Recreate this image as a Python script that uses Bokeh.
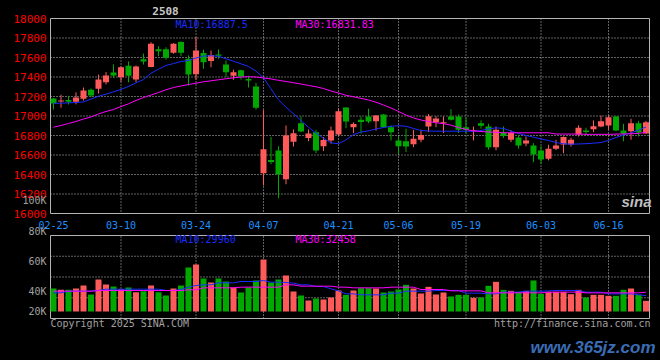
from bokeh.plotting import figure
from bokeh.models import ColumnDataSource, Range1d
from bokeh.core.properties import value
from bokeh.embed import file_html
from bokeh.resources import INLINE

# ---------------- data ----------------
CONTRACT = "2508"
DATE_TICK_INDEX = [0, 9, 19, 28, 38, 46, 55, 65, 74]
DATE_TICK_LABELS = ["02-25", "03-10", "03-24", "04-07", "04-21", "05-06", "05-19", "06-03", "06-16"]
PRICE_TICKS = [16000, 16200, 16400, 16600, 16800, 17000, 17200, 17400, 17600, 17800, 18000]

OPEN = [17180, 17150, 17163, 17146, 17176, 17270, 17280, 17346, 17446, 17397,
        17515, 17375, 17582, 17502, 17685, 17685, 17648, 17760, 17587, 17428,
        17645, 17565, 17632, 17528, 17412, 17470, 17380, 17303, 16413, 16550,
        16646, 16352, 16735, 16925, 16775, 16834, 16690, 16749, 16810, 17087,
        16885, 16962, 16995, 16947, 17015, 16885, 16749, 16740, 16710, 16756,
        16892, 16936, 16926, 16995, 16995, 16885, 16845, 16926, 16892, 16680,
        16827, 16756, 16780, 16718, 16697, 16646, 16561, 16663, 16708, 16708,
        16810, 16851, 16865, 16892, 16903, 16995, 16851, 16844, 16926, 16820]
HIGH = [17185, 17218, 17207, 17243, 17292, 17282, 17425, 17450, 17530, 17510,
        17560, 17518, 17640, 17757, 17716, 17705, 17747, 17767, 17621, 17810,
        17680, 17672, 17682, 17570, 17475, 17475, 17412, 17340, 17060, 16785,
        16690, 16903, 16862, 16995, 16862, 16858, 16785, 16892, 17074, 17090,
        16935, 16995, 17075, 17010, 17020, 16903, 16790, 16870, 16858, 16860,
        17020, 16998, 16995, 17070, 17015, 16985, 16892, 16955, 16920, 16892,
        16892, 16855, 16805, 16790, 16722, 16690, 16705, 16756, 16790, 16776,
        16905, 16880, 16955, 17005, 17005, 17000, 16920, 16971, 16950, 16950]
LOW = [17067, 17085, 17118, 17120, 17158, 17193, 17230, 17323, 17390, 17350,
       17345, 17347, 17528, 17500, 17613, 17577, 17638, 17613, 17313, 17372,
       17484, 17500, 17587, 17400, 17372, 17372, 17292, 17065, 16287, 16505,
       16157, 16300, 16687, 16835, 16741, 16618, 16640, 16715, 16800, 16875,
       16825, 16820, 16926, 16850, 16880, 16749, 16612, 16630, 16680, 16730,
       16835, 16885, 16825, 16954, 16825, 16820, 16750, 16870, 16655, 16648,
       16775, 16732, 16665, 16690, 16527, 16510, 16545, 16650, 16618, 16687,
       16790, 16805, 16835, 16885, 16860, 16845, 16741, 16756, 16790, 16815]
CLOSE = [17128, 17160, 17145, 17190, 17262, 17210, 17374, 17415, 17415, 17500,
         17412, 17508, 17560, 17740, 17665, 17597, 17740, 17648, 17426, 17672,
         17552, 17625, 17618, 17450, 17450, 17406, 17365, 17085, 16660, 16527,
         16400, 16800, 16822, 16840, 16821, 16646, 16755, 16851, 17049, 16944,
         16918, 16938, 16944, 17005, 16885, 16834, 16690, 16687, 16766, 16805,
         16998, 16975, 16936, 16961, 16860, 16860, 16855, 16900, 16680, 16860,
         16795, 16825, 16697, 16749, 16605, 16554, 16663, 16697, 16785, 16756,
         16880, 16836, 16895, 16947, 16988, 16851, 16817, 16926, 16830, 16936]
MA10 = [17131, 17131, 17135, 17138, 17145, 17173, 17203, 17224, 17248, 17272,
        17303, 17340, 17374, 17439, 17480, 17518, 17538, 17559, 17569, 17595,
        17615, 17618, 17613, 17587, 17562, 17535, 17508, 17460, 17392, 17279,
        17166, 17090, 17023, 16954, 16885, 16824, 16772, 16725, 16715, 16756,
        16810, 16835, 16848, 16867, 16882, 16895, 16900, 16895, 16872, 16851,
        16846, 16844, 16844, 16844, 16844, 16844, 16844, 16851, 16867, 16879,
        16872, 16846, 16821, 16800, 16783, 16764, 16749, 16728, 16715, 16711,
        16713, 16716, 16721, 16728, 16749, 16780, 16805, 16826, 16855, 16887.5]
MA30 = [16885, 16903, 16923, 16944, 16969, 16990, 17021, 17046, 17067, 17097,
        17125, 17159, 17190, 17215, 17241, 17269, 17292, 17308, 17323, 17336,
        17351, 17361, 17372, 17382, 17392, 17400, 17403, 17400, 17390, 17380,
        17366, 17354, 17341, 17328, 17313, 17300, 17282, 17256, 17236, 17212,
        17197, 17181, 17164, 17141, 17113, 17082, 17046, 17010, 16980, 16959,
        16944, 16931, 16921, 16906, 16882, 16862, 16846, 16841, 16836, 16833,
        16828, 16828, 16828, 16828, 16828, 16828, 16828, 16815, 16815, 16815,
        16815, 16812, 16812, 16812, 16812, 16814, 16816, 16818, 16822, 16831.83]
VOLUME = [35250, 34250, 34250, 35250, 37500, 30750, 42000, 38250, 36750, 34750,
          36000, 32500, 33250, 37500, 32500, 30000, 35250, 37500, 51000, 53250,
          42750, 39750, 42750, 40500, 36000, 32250, 36000, 41250, 57000, 39750,
          42000, 45000, 33000, 30000, 26250, 27750, 27000, 28500, 33750, 30500,
          33750, 35500, 35500, 35250, 32250, 33000, 34500, 38000, 35250, 31500,
          36500, 30750, 32250, 29250, 30500, 30500, 28250, 28500, 37250, 40250,
          34250, 33500, 32750, 33500, 41250, 31250, 32750, 32750, 32750, 31000,
          34250, 28500, 30500, 30500, 29750, 29750, 34250, 35250, 30500, 26000]
VOL_MA10 = [32000, 32000, 33250, 33250, 33250, 33250, 33750, 34750, 34750, 34750,
            34750, 34750, 34750, 34750, 34750, 33750, 33750, 34500, 36250, 37500,
            38000, 38000, 39500, 39500, 39500, 40500, 40500, 40500, 41250, 40000,
            40000, 39750, 39250, 38000, 38000, 36750, 36750, 35000, 33500, 31250,
            31250, 30500, 30500, 30500, 30500, 31750, 31750, 33250, 33250, 33250,
            33250, 33750, 33750, 33750, 33750, 31750, 31750, 31750, 31250, 31250,
            32500, 32500, 32500, 33250, 33250, 33250, 33500, 33750, 33750, 33750,
            33750, 32500, 32500, 32500, 31250, 31250, 31250, 31250, 30500, 29960]
VOL_MA30 = [33250, 33250, 33250, 33250, 33250, 33250, 33750, 33750, 33750, 33750,
            33750, 33750, 33750, 33750, 33750, 33750, 33750, 33750, 34250, 34250,
            35750, 35750, 35750, 35750, 35750, 36250, 36250, 36250, 36250, 36250,
            36250, 38000, 38000, 37000, 37000, 37000, 37000, 37000, 36250, 36250,
            35750, 35750, 35750, 35750, 35750, 36250, 36250, 36250, 36250, 34500,
            34500, 34500, 34500, 33500, 33500, 33500, 33500, 33500, 32000, 32000,
            32000, 32000, 32000, 32000, 32000, 32000, 32500, 32500, 32500, 32500,
            32500, 32000, 32000, 32000, 32000, 32000, 32000, 32000, 32000, 32458]
MA10_TEXT = "MA10:16887.5"
MA30_TEXT = "MA30:16831.83"
VOL_MA10_TEXT = "MA10:29960"
VOL_MA30_TEXT = "MA30:32458"
VOL_LABELS = ["100K", "80K", "60K", "40K", "20K"]
COPYRIGHT = "Copyright 2025 SINA.COM"
SOURCE_URL = "http://finance.sina.com.cn"
WATERMARK = "www.365jz.com"
LOGO = "sina"

# ---------------- layout / style ----------------
W, H = 660, 360
BAR0_PX, BAR_STEP = 53, 7.5          # pixel centre of first bar, pixels per bar
PANEL_L, PANEL_R = 50, 649           # panel frame, x pixels
P_TOP, P_BOT = 18, 213               # price panel frame, y pixels
V_TOP, V_BOT = 235, 318              # volume panel frame, y pixels
VOL_BASE, VOL_BASE_PX, VOL_PER_PX = 18000, 311, 750
PRICE_PER_PX = (PRICE_TICKS[-1] - PRICE_TICKS[0]) / (P_BOT - P_TOP)


def xi(px):
    return (px - BAR0_PX) / BAR_STEP


def yp(px):
    return PRICE_TICKS[-1] - (px - P_TOP) * PRICE_PER_PX


def yv(px):
    return VOL_BASE + (VOL_BASE_PX - px) * VOL_PER_PX


MONO = value("DejaVu Sans Mono")
UP, DOWN = "#ff5a5a", "#00a800"
GRID, FRAME = "#c4c4c4", "#b4b4b4"
BLUE, MAG, GRAY = "#1a2cff", "#ff00ff", "#a0a0a0"

n = len(CLOSE)
idx = list(range(n))
colors = [UP if c >= o else DOWN for o, c in zip(OPEN, CLOSE)]
src = ColumnDataSource(dict(
    x=idx, high=HIGH, low=LOW, vol=VOLUME, color=colors,
    top=[max(o, c) for o, c in zip(OPEN, CLOSE)],
    bottom=[min(o, c) for o, c in zip(OPEN, CLOSE)],
))

p = figure(width=W, height=H, x_range=Range1d(xi(0), xi(W)), y_range=Range1d(yp(H), yp(0)),
           output_backend="svg", toolbar_location=None,
           x_axis_location=None, y_axis_location=None, min_border=0,
           background_fill_color="black", border_fill_color="black")
p.extra_y_ranges = {"vol": Range1d(yv(H), yv(0))}
p.grid.visible = False
p.outline_line_color = None

xl, xr = xi(PANEL_L), xi(PANEL_R)
grid_idx = DATE_TICK_INDEX[1:]

# grids
inner = PRICE_TICKS[1:-1]
p.segment(x0=[xl] * len(inner), x1=[xr] * len(inner), y0=inner, y1=inner,
          line_color=GRID, line_dash="1 2", line_width=1)
p.segment(x0=grid_idx, x1=grid_idx, y0=[yp(P_TOP)] * len(grid_idx), y1=[yp(P_BOT)] * len(grid_idx),
          line_color=GRID, line_dash="1 2", line_width=1)
v_lo, v_hi = yv(V_BOT), yv(V_TOP)
v_grid = [v_lo + k * (v_hi - v_lo) / 4 for k in (1, 2, 3)]
p.segment(x0=[xl] * 3, x1=[xr] * 3, y0=v_grid, y1=v_grid, y_range_name="vol",
          line_color=GRID, line_dash="1 2", line_width=1)
p.segment(x0=grid_idx, x1=grid_idx, y0=[v_lo] * len(grid_idx), y1=[v_hi] * len(grid_idx),
          y_range_name="vol", line_color=GRID, line_dash="1 2", line_width=1)

# panel frames
p.quad(left=[xl], right=[xr], top=[yp(P_TOP)], bottom=[yp(P_BOT)],
       fill_color=None, line_color=FRAME, line_width=1)
p.quad(left=[xl], right=[xr], top=[v_hi], bottom=[v_lo], y_range_name="vol",
       fill_color=None, line_color=FRAME, line_width=1)

# candles
p.segment(x0="x", y0="high", x1="x", y1="low", line_color="color", line_width=1, source=src)
p.vbar(x="x", width=0.8, top="top", bottom="bottom", fill_color="color", line_color=None, source=src)
p.line(idx, MA10, line_color=BLUE, line_width=1)
p.line(idx, MA30, line_color=MAG, line_width=1)

# volume
p.vbar(x="x", width=0.8, top="vol", bottom=VOL_BASE, fill_color="color", line_color=None,
       source=src, y_range_name="vol")
p.line(idx, VOL_MA10, line_color=BLUE, line_width=1, y_range_name="vol")
p.line(idx, VOL_MA30, line_color=MAG, line_width=1, y_range_name="vol")

# tick labels
lab_x = xi(46)
p.text(x=[lab_x] * len(PRICE_TICKS), y=PRICE_TICKS, text=[str(t) for t in PRICE_TICKS],
       text_align="right", text_baseline="middle", text_font=MONO, text_font_size="11px",
       text_color="#ff0000")
p.text(x=DATE_TICK_INDEX, y=[yp(224)] * len(DATE_TICK_INDEX), text=DATE_TICK_LABELS,
       text_align="center", text_baseline="middle", text_font=MONO, text_font_size="10px",
       text_color="#1e90ff")
p.text(x=[lab_x] * len(VOL_LABELS), y=[yv(py) for py in (200, 231, 261, 291, 311)], text=VOL_LABELS,
       y_range_name="vol", text_align="right", text_baseline="middle", text_font=MONO,
       text_font_size="10px", text_color=GRAY)

# other texts
p.text(x=[xi(165)], y=[yp(10)], text=[CONTRACT], text_align="center", text_baseline="middle",
       text_font=MONO, text_font_size="11px", text_font_style="bold", text_color="#c8c8c8")
p.text(x=[xi(175), xi(295)], y=[yp(24)] * 2, text=[MA10_TEXT, MA30_TEXT],
       text_baseline="middle", text_font=MONO, text_font_size="10px", text_color=[BLUE, MAG])
p.text(x=[xi(175), xi(295)], y=[yv(239)] * 2, text=[VOL_MA10_TEXT, VOL_MA30_TEXT], y_range_name="vol",
       text_baseline="middle", text_font=MONO, text_font_size="10px", text_color=[BLUE, MAG])
p.text(x=[xi(50)], y=[yv(323)], text=[COPYRIGHT], y_range_name="vol", text_baseline="middle",
       text_font=MONO, text_font_size="10px", text_color=GRAY)
p.text(x=[xi(650)], y=[yv(323)], text=[SOURCE_URL], y_range_name="vol", text_align="right",
       text_baseline="middle", text_font=MONO, text_font_size="10px", text_color=GRAY)
p.text(x=[xi(655)], y=[yv(347)], text=[WATERMARK], y_range_name="vol", text_align="right",
       text_baseline="middle", text_font=value("Liberation Sans"), text_font_size="17px",
       text_font_style="bold italic", text_color="#3a6db5")
p.text(x=[xi(636)], y=[yp(201)], text=[LOGO], text_align="center", text_baseline="middle",
       text_font=value("Liberation Sans"), text_font_size="15px", text_font_style="bold italic",
       text_color="#c0c0c0")

html = file_html(p, INLINE, title="2508")
html = html.replace("</head>", "<style>html,body{background:#000000;}</style></head>", 1)
open("out.html", "w").write(html)
